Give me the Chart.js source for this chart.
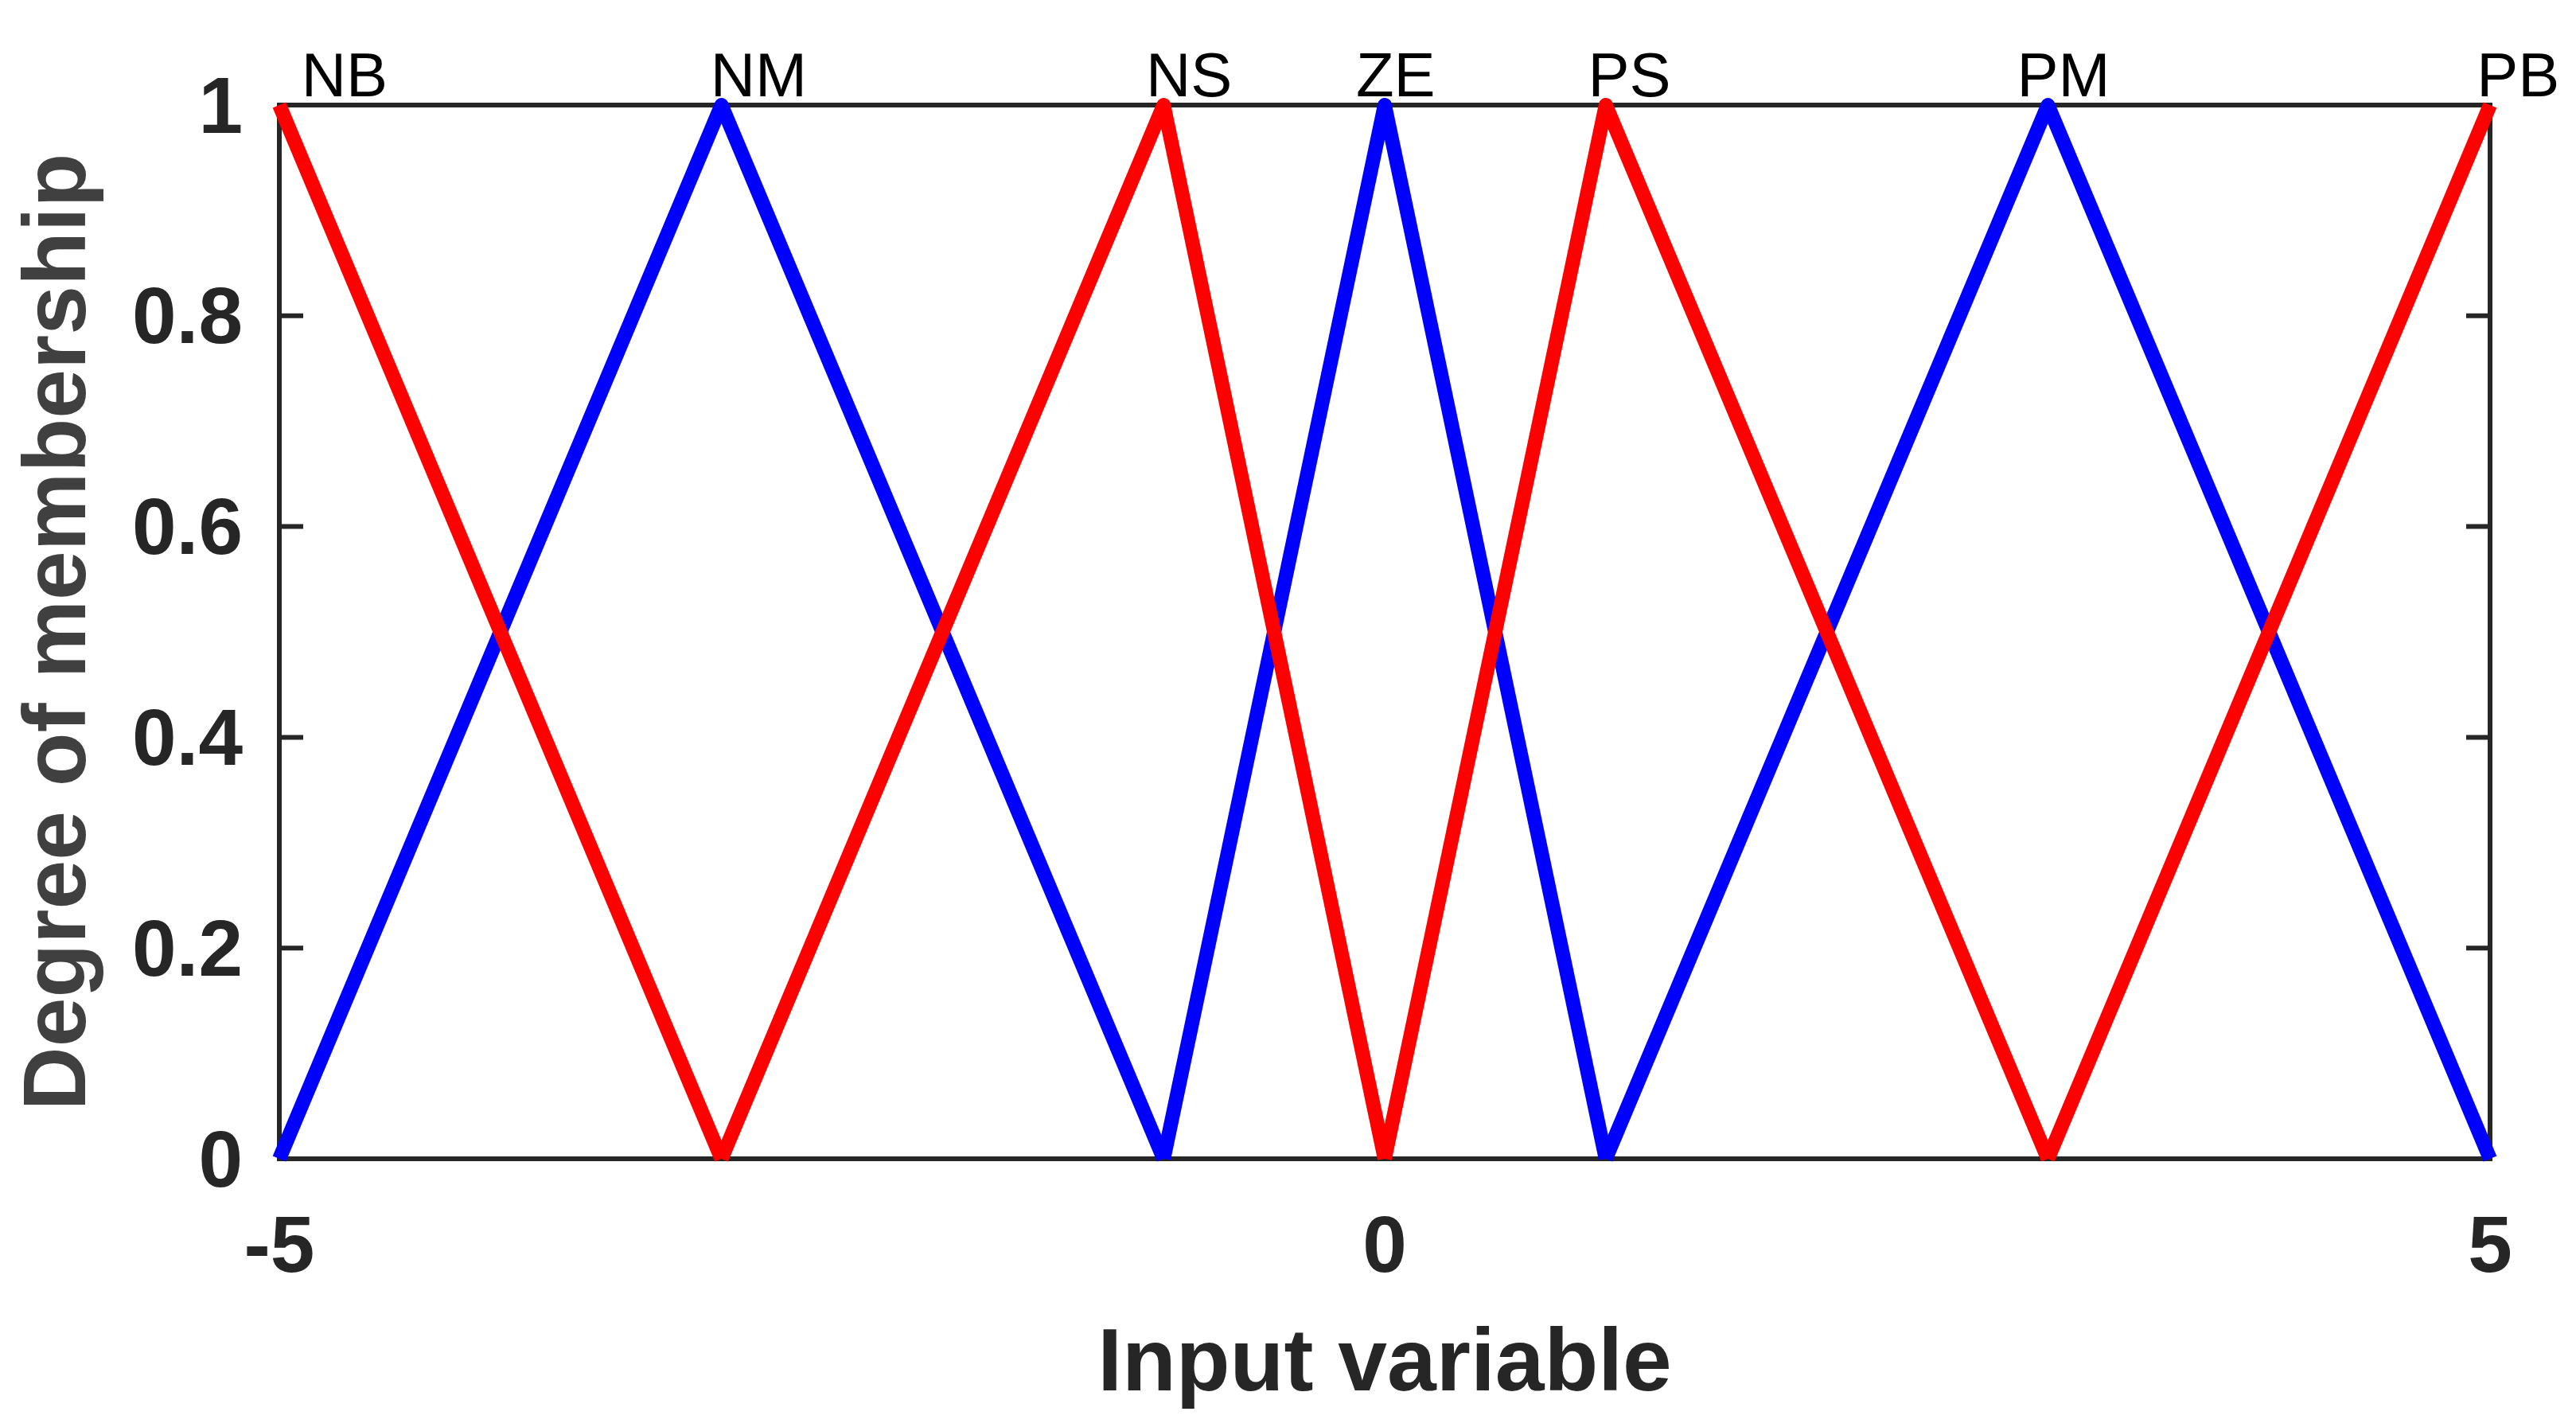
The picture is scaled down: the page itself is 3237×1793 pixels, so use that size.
<!DOCTYPE html>
<html>
<head>
<meta charset="utf-8">
<script src="https://cdn.jsdelivr.net/npm/chart.js@4.4.1/dist/chart.umd.min.js"></script>
<style>
  html, body { margin: 0; padding: 0; background: #ffffff; }
  canvas { display: block; }
</style>
</head>
<body>
<canvas id="mf-chart" width="3237" height="1793"></canvas>
<script>
// fuzzy sets of the input variable (triangular membership functions)
const setNames = ['NB', 'NM', 'NS', 'ZE', 'PS', 'PM', 'PB'];
const setX = [
    [-5, -3],
    [-5, -3, -1],
    [-3, -1, 0],
    [-1, 0, 1],
    [0, 1, 3],
    [1, 3, 5],
    [3, 5]
];
const setMu = [
    [1, 0],
    [0, 1, 0],
    [0, 1, 0],
    [0, 1, 0],
    [0, 1, 0],
    [0, 1, 0],
    [0, 1]
];
const xTicks = [-5, 0, 5];
const yTicks = [0, 0.2, 0.4, 0.6, 0.8, 1];

const setColors = ['#ff0000', '#0000ff', '#ff0000', '#0000ff', '#ff0000', '#0000ff', '#ff0000'];
// where each set name is written, in x units
const nameX = [-4.9, -3.05, -1.08, -0.13, 0.92, 2.86, 4.94];

const axisColor = '#262626';
const fontFamily = "'Liberation Sans', Arial, Helvetica, sans-serif";

const datasets = setNames.map(function (name, i) {
    return {
        label: name,
        data: setX[i].map((x, j) => ({ x: x, y: setMu[i][j] })),
        borderColor: setColors[i],
        backgroundColor: setColors[i],
        borderWidth: 18,
        borderJoinStyle: 'round',
        borderCapStyle: 'butt',
        pointRadius: 0,
        tension: 0,
        clip: false,
        order: setColors[i] === '#ff0000' ? 0 : 1
    };
});

// box around the plot with inward ticks, like the original figure
const boxPlugin = {
    id: 'box',
    beforeDatasetsDraw(chart) {
        const ctx = chart.ctx;
        const a = chart.chartArea;
        const xs = chart.scales.x;
        const ys = chart.scales.y;
        const tl = 30;
        ctx.save();
        ctx.strokeStyle = axisColor;
        ctx.lineWidth = 6;
        ctx.strokeRect(a.left, a.top, a.right - a.left, a.bottom - a.top);
        ctx.beginPath();
        yTicks.forEach(function (v) {
            const y = ys.getPixelForValue(v);
            ctx.moveTo(a.left, y);
            ctx.lineTo(a.left + tl, y);
            ctx.moveTo(a.right, y);
            ctx.lineTo(a.right - tl, y);
        });
        xTicks.forEach(function (v) {
            const x = xs.getPixelForValue(v);
            ctx.moveTo(x, a.bottom);
            ctx.lineTo(x, a.bottom - tl);
            ctx.moveTo(x, a.top);
            ctx.lineTo(x, a.top + tl);
        });
        ctx.stroke();
        ctx.restore();
    },
    afterDraw(chart) {
        const ctx = chart.ctx;
        const xs = chart.scales.x;
        const ys = chart.scales.y;
        ctx.save();
        ctx.fillStyle = '#000000';
        ctx.font = '78px ' + fontFamily;
        ctx.textAlign = 'left';
        ctx.textBaseline = 'alphabetic';
        setNames.forEach(function (name, i) {
            ctx.fillText(name, xs.getPixelForValue(nameX[i]), ys.getPixelForValue(1) - 11);
        });
        ctx.restore();
    }
};

new Chart(document.getElementById('mf-chart'), {
    type: 'line',
    data: { datasets: datasets },
    plugins: [boxPlugin],
    options: {
        responsive: false,
        animation: false,
        devicePixelRatio: 1,
        layout: {
            padding: { left: 0, top: 132, right: 108, bottom: 0 }
        },
        plugins: {
            legend: { display: false },
            tooltip: { enabled: false }
        },
        scales: {
            x: {
                type: 'linear',
                min: -5,
                max: 5,
                afterBuildTicks: function (scale) {
                    scale.ticks = xTicks.map(v => ({ value: v }));
                },
                afterFit: function (scale) {
                    scale.height = 337;
                },
                grid: { display: false, drawTicks: false },
                border: { display: false },
                ticks: {
                    padding: 54,
                    color: axisColor,
                    callback: v => String(v),
                    font: { family: fontFamily, size: 100, weight: 'bold' }
                },
                title: {
                    display: true,
                    text: 'Input variable',
                    color: axisColor,
                    padding: { top: 0, bottom: 10 },
                    font: { family: fontFamily, size: 111, weight: 'bold', lineHeight: 1.2 }
                }
            },
            y: {
                min: 0,
                max: 1,
                afterBuildTicks: function (scale) {
                    scale.ticks = yTicks.map(v => ({ value: v }));
                },
                afterFit: function (scale) {
                    scale.width = 351;
                },
                grid: { display: false, drawTicks: false },
                border: { display: false },
                ticks: {
                    padding: 46,
                    labelOffset: 7,
                    color: axisColor,
                    callback: v => String(v),
                    font: { family: fontFamily, size: 100, weight: 'bold' }
                },
                title: {
                    display: true,
                    text: 'Degree of membership',
                    color: '#404040',
                    padding: { top: 10, bottom: 0 },
                    font: { family: fontFamily, size: 111, weight: 'bold', lineHeight: 1.2 }
                }
            }
        }
    }
});
</script>
</body>
</html>
